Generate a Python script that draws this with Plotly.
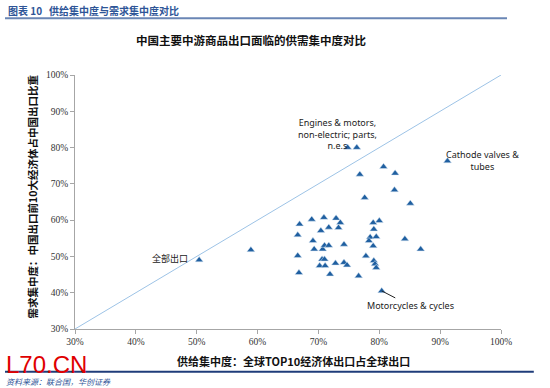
import plotly.graph_objects as go

# Supply concentration (x, %) and demand concentration (y, %) per product
supply_pct = [50.4, 58.9,
              66.9, 68.9, 70.9, 72.9, 73.6, 71.7, 70.4, 73.3, 66.6, 69.1, 69.3, 70.7, 71.0, 71.7, 74.2,
              66.6, 70.6, 71.0, 70.2, 71.1, 72.8, 74.2, 74.7, 66.8, 71.9,
              79.0, 80.0, 79.1, 78.5, 79.5, 78.3, 79.0, 84.2, 86.8, 77.8, 79.1, 79.3, 79.5, 76.6, 80.4,
              74.8, 76.3, 80.7, 82.6, 76.8, 82.5, 77.6, 85.1, 91.2]
demand_pct = [49.0, 51.8,
              58.9, 60.2, 60.7, 60.5, 59.3, 58.0, 57.1, 57.9, 55.9, 54.3, 52.0, 52.0, 53.0, 53.0, 53.3,
              50.2, 49.2, 49.2, 47.4, 47.4, 48.1, 48.3, 47.6, 45.5, 45.1,
              59.3, 59.8, 57.5, 55.3, 55.4, 54.3, 52.9, 54.8, 52.0, 50.1, 48.8, 47.9, 46.9, 44.6, 40.5,
              80.0, 80.0, 74.7, 72.9, 72.6, 68.3, 66.2, 64.6, 76.3]

diag_pct = [30, 100]
tick_vals_pct = [30, 40, 50, 60, 70, 80, 90, 100]
tick_text = [f"{v}%" for v in tick_vals_pct]

title_text = "中国主要中游商品出口面临的供需集中度对比"
header_text = "图表 10   供给集中度与需求集中度对比"
x_title = "供给集中度：全球TOP10经济体出口占全球出口"
y_title = "需求集中度：中国出口前10大经济体占中国出口比重"
source_text = "资料来源：联合国，华创证券"

CJK = "Noto Sans CJK SC"

fig = go.Figure()
fig.add_trace(go.Scatter(
    x=[v / 100 for v in diag_pct], y=[v / 100 for v in diag_pct],
    mode="lines", line=dict(color="#9DC3E6", width=1), hoverinfo="skip", showlegend=False))
fig.add_trace(go.Scatter(
    x=[v / 100 for v in supply_pct], y=[v / 100 for v in demand_pct],
    mode="markers",
    marker=dict(symbol="triangle-up", size=7, color="#1F5FA0",
                line=dict(color="#DDE8F4", width=0.5)),
    showlegend=False))

axis_common = dict(
    range=[0.3, 1.0], tickvals=[v / 100 for v in tick_vals_pct], ticktext=tick_text,
    showgrid=False, zeroline=False, showline=True, linecolor="#A6A6A6", linewidth=1,
    ticks="outside", ticklen=4, tickcolor="#A6A6A6",
    tickfont=dict(family="Liberation Serif", size=9.5, color="#333333"))

fig.update_layout(
    width=550, height=388,
    margin=dict(l=75, r=49, t=75, b=59),
    paper_bgcolor="white", plot_bgcolor="white",
    xaxis=axis_common, yaxis=axis_common,
    font=dict(family=CJK, color="#222222"),
)

ann = [
    dict(text="<b>" + header_text + "</b>", x=-0.162, y=1.252, xanchor="left", yanchor="middle",
         font=dict(family=CJK, size=10, color="#2E5597")),
    dict(text="<b>" + title_text + "</b>", x=0.412, y=1.138, xanchor="center", yanchor="middle",
         font=dict(family=CJK, size=11.5, color="#111111")),
    dict(text="<b>" + x_title + "</b>", x=0.513, y=-0.126, xanchor="center", yanchor="middle",
         font=dict(family=CJK, size=11, color="#111111")),
    dict(text="<b>" + y_title + "</b>", x=-0.099, y=0.521, xanchor="center", yanchor="middle",
         textangle=-90, font=dict(family=CJK, size=10.5, color="#111111")),
    dict(text="<i>" + source_text + "</i>", x=-0.164, y=-0.207, xanchor="left", yanchor="middle",
         borderpad=0, font=dict(family=CJK, size=8, color="#2E5597")),
    dict(text="L70.CN", x=-0.164, y=-0.138, xanchor="left", yanchor="middle",
         height=22, borderpad=0,
         font=dict(family="Liberation Sans", size=24, color="#E00000")),
    dict(text="Engines & motors,<br>non-electric; parts,<br>n.e.s", x=0.617, y=0.766,
         xanchor="center", yanchor="middle", align="center",
         font=dict(family="Noto Sans", size=9, color="#222222")),
    dict(text="Cathode valves &<br>tubes", x=0.9566, y=0.663, xanchor="center", yanchor="middle",
         align="center", font=dict(family="Noto Sans", size=9, color="#222222")),
    dict(text="全部出口", x=0.223, y=0.2795, xanchor="center", yanchor="middle",
         font=dict(family=CJK, size=9, color="#222222")),
]
for a in ann:
    a.update(xref="paper", yref="paper", showarrow=False)
ann.append(dict(text="Motorcycles & cycles", x=supply_pct[41] / 100, y=demand_pct[41] / 100,
                xref="x", yref="y", showarrow=True, arrowhead=0, arrowwidth=1,
                arrowcolor="#222222", ax=29, ay=15,
                font=dict(family="Noto Sans", size=9, color="#222222")))
fig.update_layout(annotations=ann)

fig.update_layout(shapes=[
    dict(type="line", xref="paper", yref="paper", x0=-0.1643, x1=1.0141, y0=1.2232, y1=1.2232,
         line=dict(color="#6A86B5", width=2)),
    dict(type="line", xref="paper", yref="paper", x0=-0.1643, x1=1.077, y0=-0.168, y1=-0.168,
         line=dict(color="#1F3C7A", width=2)),
])

fig.write_html("out.html", config={"displayModeBar": False},
               post_script="document.body.style.margin='0';")
